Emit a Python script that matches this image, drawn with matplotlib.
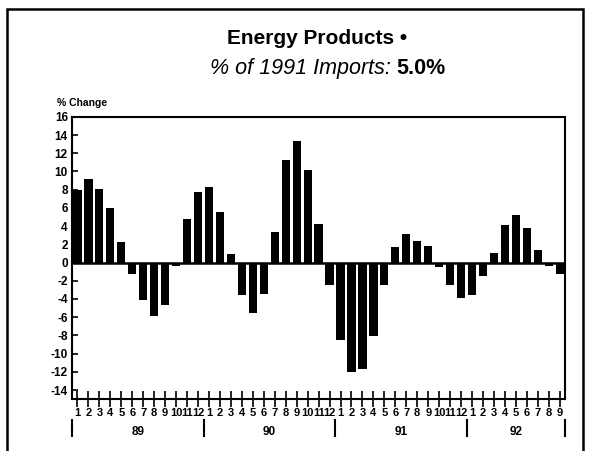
import numpy as np
import matplotlib
matplotlib.use('Agg')
import matplotlib.pyplot as plt
import matplotlib.transforms as mtransforms
from matplotlib.patches import Rectangle

# monthly % change, energy products imports
years = ['89', '90', '91', '92']
chg_89 = [8.0, 9.2, 8.1, 6.0, 2.2, -1.3, -4.1, -5.9, -4.7, -0.4, 4.8, 7.7]
chg_90 = [8.3, 5.5, 0.9, -3.6, -5.5, -3.5, 3.4, 11.3, 13.3, 10.2, 4.2, -2.5]
chg_91 = [-8.5, -12.0, -11.7, -8.1, -2.5, 1.7, 3.1, 2.4, 1.8, -0.5, -2.5, -3.9]
chg_92 = [-3.6, -1.5, 1.1, 4.1, 5.2, 3.8, 1.4, -0.4, -1.3]
yticks = list(range(-14, 17, 2))

plt.rcParams['font.family'] = ['Liberation Sans', 'DejaVu Sans']

values = chg_89 + chg_90 + chg_91 + chg_92
months = [str(m) for m in range(1, 13)] * 3 + [str(m) for m in range(1, 10)]
x = np.arange(len(values))

fig = plt.figure(figsize=(5.9, 4.51), dpi=100)
ax = fig.add_axes([0.122, 0.115, 0.836, 0.626])

ax.bar(x, values, width=0.75, color='black')
ax.axhline(0, color='black', lw=1.8)

ax.set_xlim(-0.5, len(values) - 0.5)
ax.set_ylim(-15, 16)
ax.set_yticks(yticks)
ax.set_yticklabels([str(t) for t in yticks], fontsize=8.5, fontweight='bold')
ax.tick_params(axis='y', direction='in', length=4, width=1.2, pad=3)
ax.set_xticks(x)
ax.set_xticklabels(months, fontsize=8, fontweight='bold')
ax.tick_params(axis='x', direction='inout', length=11, width=1.2, pad=1)
for s in ax.spines.values():
    s.set_linewidth(1.5)

# year groups below the axis
trans = mtransforms.blended_transform_factory(ax.transData, ax.transAxes)
starts = [0, 12, 24, 36]
ends = [12, 24, 36, len(values)]
for b in starts + [len(values)]:
    ax.plot([b - 0.5, b - 0.5], [-0.075, -0.13], color='black', lw=1.5,
            transform=trans, clip_on=False)
for yr, s, e in zip(years, starts, ends):
    ax.text((s + e - 1) / 2, -0.118, yr, transform=trans, ha='center',
            va='center', fontsize=8.5, fontweight='bold')

ax.text(-0.03, 1.03, '% Change', transform=ax.transAxes, fontsize=7.5,
        fontweight='bold', ha='left', va='bottom')

fig.text(0.537, 0.914, 'Energy Products \u2022', ha='center', va='center',
         fontsize=15, fontweight='bold')
fig.text(0.672, 0.848, '% of 1991 Imports: ', ha='right', va='center',
         fontsize=15.5, style='italic')
fig.text(0.672, 0.848, '5.0%', ha='left', va='center', fontsize=15.5,
         fontweight='bold')

# outer frame
fig.patches.append(Rectangle((0.012, -0.05), 0.976, 1.03, transform=fig.transFigure,
                             fill=False, lw=1.8, ec='black'))

fig.savefig('out.png', dpi=100)
